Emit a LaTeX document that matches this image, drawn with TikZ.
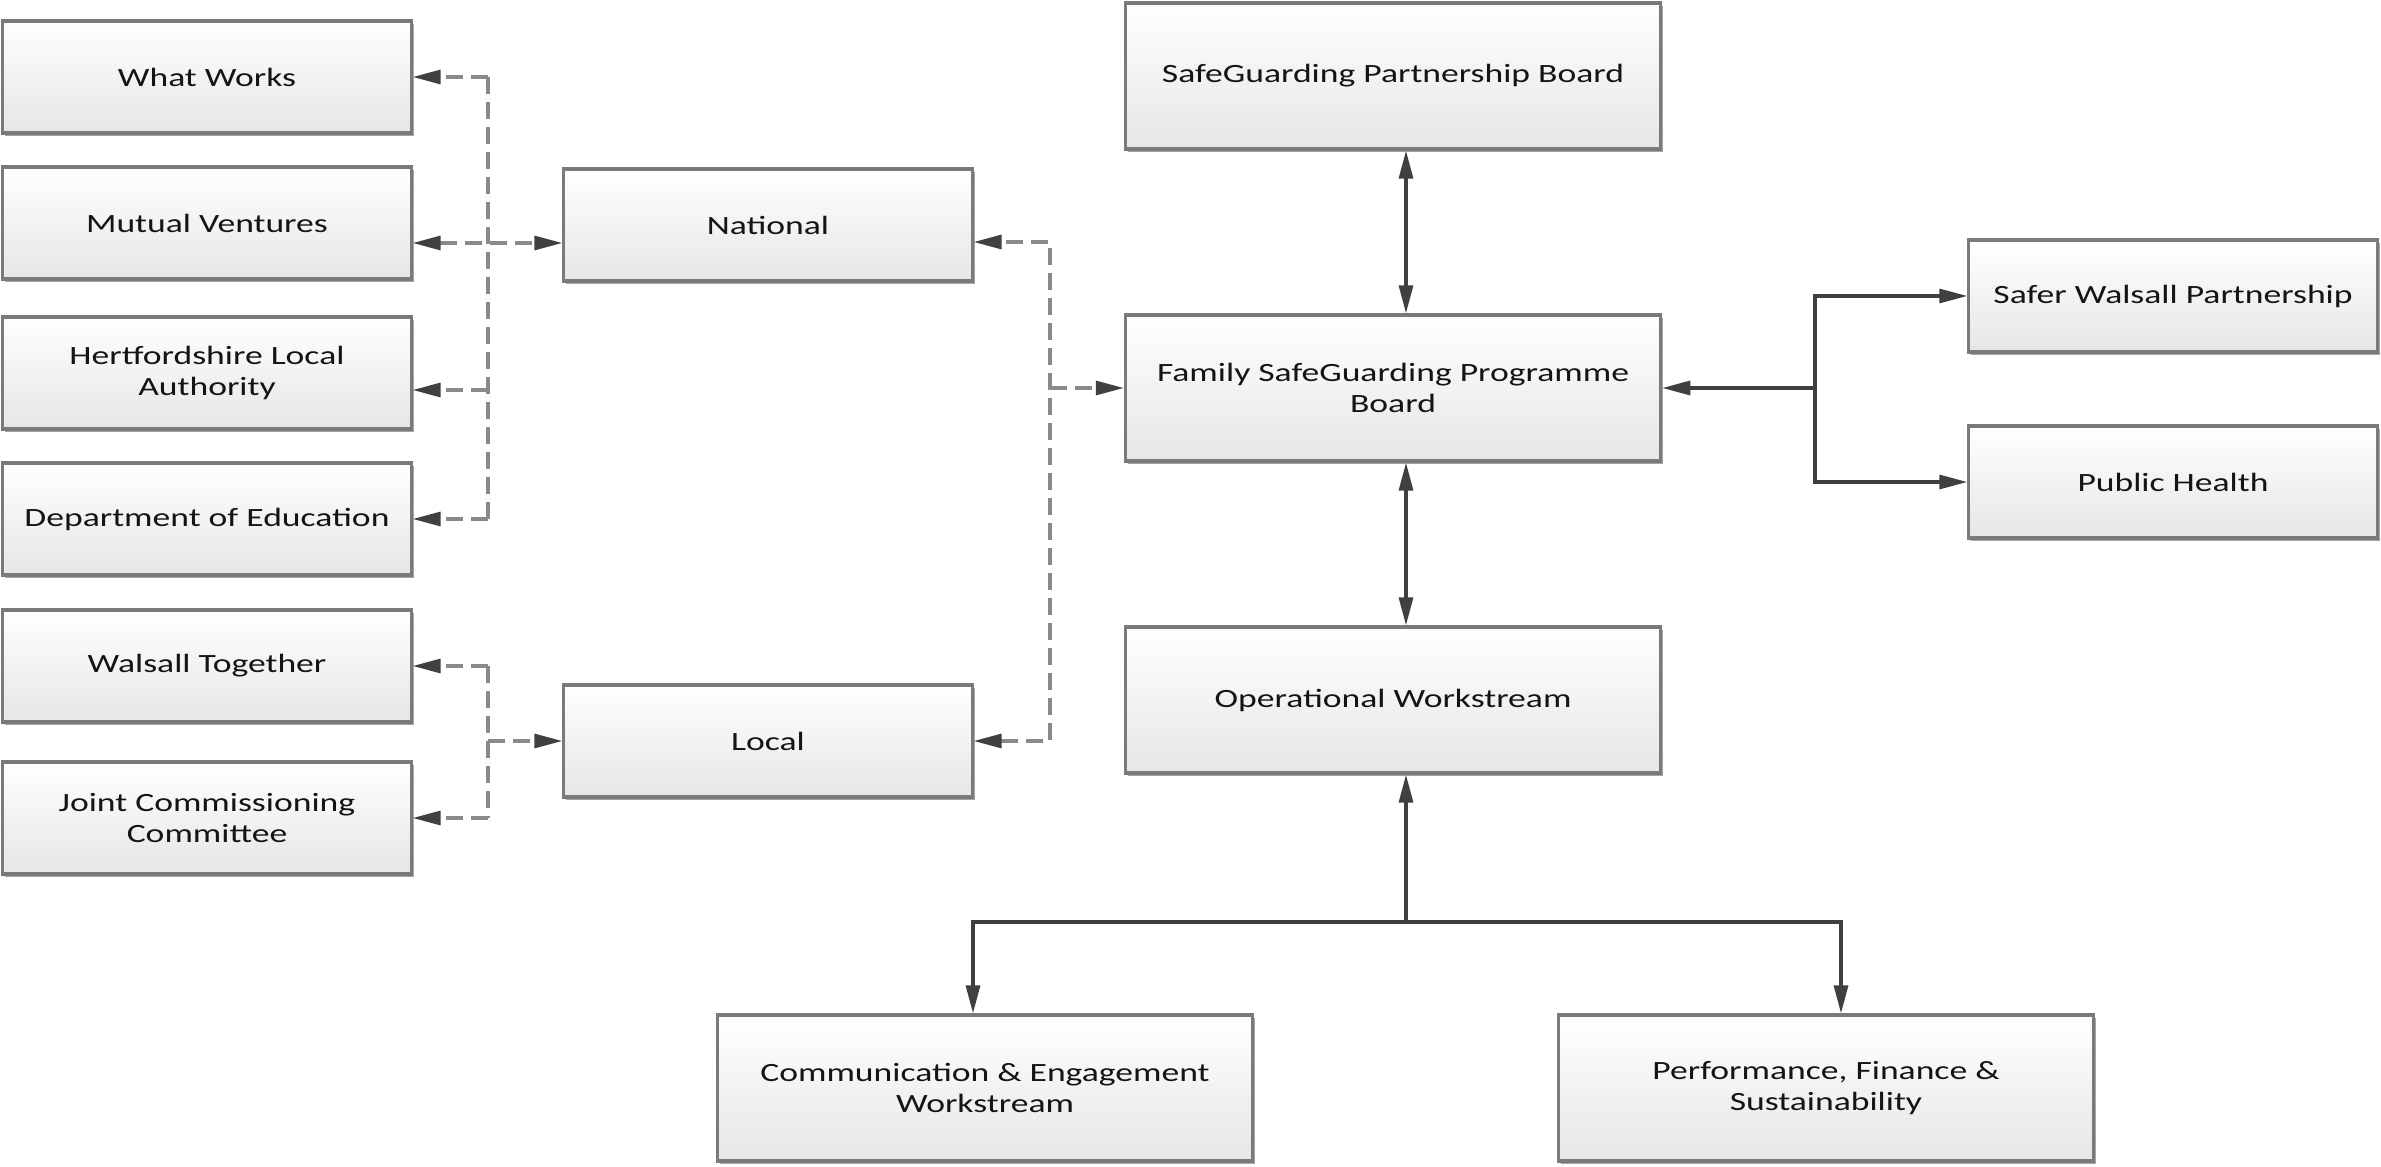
\documentclass[tikz,border=0pt]{standalone}
\usepackage{fontspec}
\setmainfont{Carlito}[FakeStretch=1.35]
\usetikzlibrary{arrows.meta,shadows}

\definecolor{linegray}{HTML}{404040}
\definecolor{dashgray}{HTML}{8A8A8A}
\definecolor{boxline}{HTML}{7A7A7A}
\definecolor{boxfill}{HTML}{E6E6E6}
\definecolor{textgray}{HTML}{141414}

\begin{document}
\begin{tikzpicture}[x=0.01cm, y=-0.01cm,
	>={Triangle[length=0.28cm, width=0.14cm, color=linegray]},
	box/.style={draw=boxline, line width=0.9pt, top color=white, bottom color=boxfill,
		minimum width=4.08cm, minimum height=1.12cm, align=center, text=textgray,
		font=\fontsize{7.5}{9}\selectfont,
		drop shadow={shadow xshift=0.025cm, shadow yshift=-0.03cm, fill=black!70, opacity=0.5}},
	bigbox/.style={box, minimum width=5.35cm, minimum height=1.46cm},
	link/.style={draw=linegray, line width=0.9pt},
	dashlink/.style={draw=dashgray, line width=0.9pt, dash pattern=on 0.17cm off 0.08cm}]
	\path[use as bounding box, fill=white] (0,0) rectangle (2381,1167);

	\node[box] (whatworks) at (207,77) {What Works};
	\node[box] (mutual) at (207,223) {Mutual Ventures};
	\node[box] (hertford) at (207,373) {Hertfordshire Local\\Authority};
	\node[box] (education) at (207,519) {Department of Education};
	\node[box] (together) at (207,666) {Walsall Together};
	\node[box] (joint) at (207,818) {Joint Commissioning\\Committee};
	\node[box] (national) at (768,225) {National};
	\node[box] (local) at (768,741) {Local};
	\node[bigbox] (partnership) at (1393,76) {SafeGuarding Partnership Board};
	\node[bigbox] (programme) at (1393,388) {Family SafeGuarding Programme\\Board};
	\node[bigbox] (operational) at (1393,700) {Operational Workstream};
	\node[box] (saferwalsall) at (2173,296) {Safer Walsall Partnership};
	\node[box] (health) at (2173,482) {Public Health};
	\node[bigbox] (comms) at (985,1088) {Communication \& Engagement\\Workstream};
	\node[bigbox] (finance) at (1826,1088) {Performance, Finance \&\\Sustainability};

	\coordinate (leftbus) at (488,243);
	\coordinate (rightbus) at (1050,243);
	\coordinate (topbus) at (1815,388);
	\coordinate (lowbus) at (1406,922);
	\coordinate (hertfordin) at ([yshift=-0.17cm]hertford.east);
	\coordinate (nationalin) at ([yshift=-0.17cm]national.east);
	\coordinate (commsin) at ([xshift=-0.12cm]comms.north);
	\coordinate (financein) at ([xshift=0.15cm]finance.north);

	% national links
	\draw[dashlink] (leftbus |- whatworks.east) -- (leftbus |- education.east);
	\draw[dashlink,->] (leftbus |- whatworks.east) -- (whatworks.east);
	\draw[dashlink,<->] (mutual.east |- leftbus) -- (national.west |- leftbus);
	\draw[dashlink,->] (leftbus |- hertfordin) -- (hertfordin);
	\draw[dashlink,->] (leftbus |- education.east) -- (education.east);

	% local links
	\draw[dashlink] (leftbus |- together.east) -- (leftbus |- joint.east);
	\draw[dashlink,->] (leftbus |- together.east) -- (together.east);
	\draw[dashlink,->] (leftbus |- joint.east) -- (joint.east);
	\draw[dashlink,->] (leftbus |- local.west) -- (local.west);

	\draw[dashlink,<->] (local.east) -- (rightbus |- local.east) -- (rightbus |- nationalin) -- (nationalin);
	\draw[dashlink,->] (rightbus |- programme.west) -- (programme.west);

	% boards and workstreams
	\draw[link,<->] (partnership.south -| lowbus) -- (programme.north -| lowbus);
	\draw[link,<->] (programme.south -| lowbus) -- (operational.north -| lowbus);
	\draw[link,->] (lowbus) -- (operational.south -| lowbus);
	\draw[link,->] (lowbus) -| (commsin);
	\draw[link,->] (lowbus) -| (financein);

	\draw[link,->] (topbus) -- (programme.east);
	\draw[link,->] (topbus) |- (saferwalsall.west);
	\draw[link,->] (topbus) |- (health.west);
\end{tikzpicture}
\end{document}
